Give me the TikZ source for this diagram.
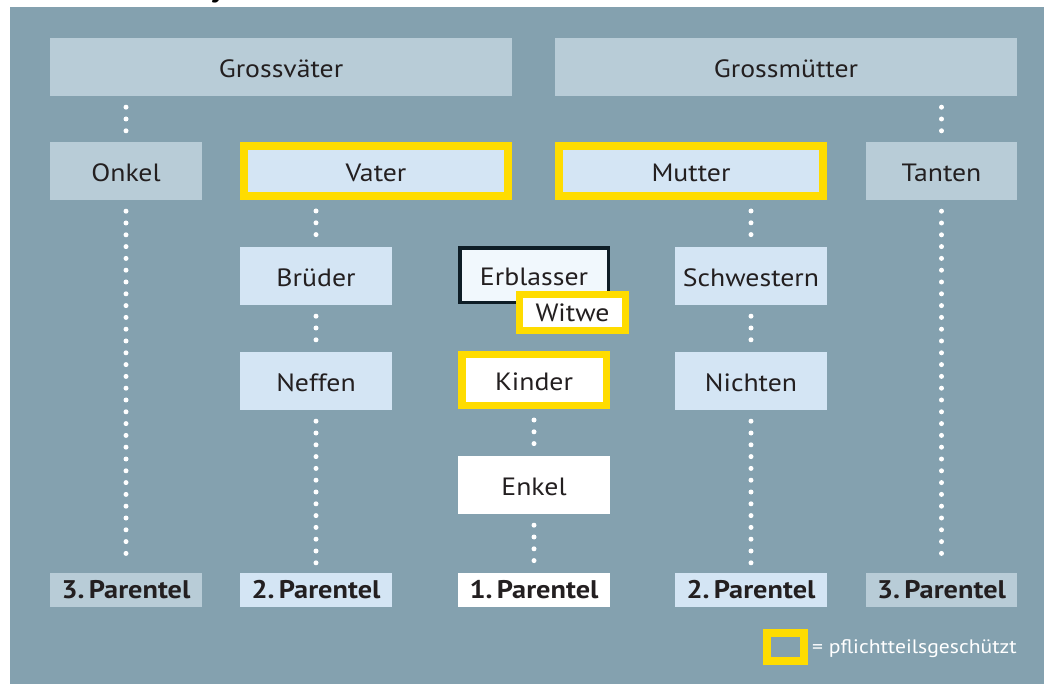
\documentclass[tikz,border=0pt]{standalone}
\usepackage{fontspec}
\setmainfont{PT Sans}[FakeStretch=1.11]
\definecolor{panel}{HTML}{84A1AF}
\definecolor{boxgray}{HTML}{B8CCD7}
\definecolor{boxblue}{HTML}{D4E5F4}
\definecolor{pyellow}{HTML}{FFDC00}
\definecolor{ink}{HTML}{231F20}
\definecolor{erbfill}{HTML}{F1F8FD}
\definecolor{erbline}{HTML}{0E1D26}
\tikzset{
  base/.style={inner sep=0pt, text=ink, font=\fontsize{25}{30}\selectfont, text height=21pt, text depth=0pt},
  graybox/.style={base, fill=boxgray},
  bluebox/.style={base, fill=boxblue},
  whitebox/.style={base, fill=white},
  yframe/.style={draw=pyellow, line width=8pt},
  plabel/.style={inner sep=0pt, text=ink, font=\bfseries\fontsize{25.5}{30}\selectfont, text height=17pt, text depth=0pt, minimum width=152pt, minimum height=34pt},
  dotline/.style={draw=white, line width=5pt, line cap=round, dash pattern=on 0pt off 11.8pt, shorten <=11pt, shorten >=10pt}
}
\begin{document}
\begin{tikzpicture}[x=1pt,y=-1pt]
\useasboundingbox (0,0) rectangle (1044,684);
\fill[white] (0,0) rectangle (1044,684);
\begin{scope}
\clip (0,0) rectangle (1044,7);
\node[anchor=base, inner sep=0pt, font=\bfseries\fontsize{32}{36}\selectfont] (frag) at (218,-3) {y};
\end{scope}
\fill[panel] (10,7) rectangle (1044,684);

% top row
\node[graybox, minimum width=462pt, minimum height=58pt] (gv) at (281,67) {Grossväter};
\node[graybox, minimum width=462pt, minimum height=58pt] (gm) at (786,67) {Grossmütter};

% second row
\node[graybox, minimum width=152pt, minimum height=58pt] (onkel) at (126,171) {Onkel};
\node[bluebox, yframe, minimum width=264pt, minimum height=50pt] (vater) at (376,171) {Vater};
\node[bluebox, yframe, minimum width=264pt, minimum height=50pt] (mutter) at (691,171) {Mutter};
\node[graybox, minimum width=151pt, minimum height=58pt] (tanten) at (941.5,171) {Tanten};

% third row
\node[bluebox, minimum width=152pt, minimum height=58pt] (brueder) at (316,276) {Brüder};
\node[base, fill=erbfill, draw=erbline, line width=3.5pt, minimum width=148.5pt, minimum height=54.5pt] (erb) at (534,275.5) {Erblasser};
\node[whitebox, yframe, line width=7pt, minimum width=106pt, minimum height=36pt, text height=19pt] (witwe) at (572.5,312.5) {Witwe};
\node[bluebox, minimum width=152pt, minimum height=58pt] (schw) at (751,276) {Schwestern};

% fourth row
\node[bluebox, minimum width=152pt, minimum height=58pt] (neffen) at (316,381) {Neffen};
\node[whitebox, yframe, line width=7.5pt, minimum width=144.5pt, minimum height=50.5pt] (kinder) at (534,380) {Kinder};
\node[bluebox, minimum width=152pt, minimum height=58pt] (nichten) at (751,381) {Nichten};

% fifth row
\node[whitebox, minimum width=152pt, minimum height=58pt] (enkel) at (534,485) {Enkel};

% parentel labels
\node[plabel, fill=boxgray] (p3a) at (126,590) {3.\,Parentel};
\node[plabel, fill=boxblue] (p2a) at (316,590) {2.\,Parentel};
\node[plabel, fill=white] (p1) at (534,590) {1.\,Parentel};
\node[plabel, fill=boxblue] (p2b) at (751,590) {2.\,Parentel};
\node[plabel, fill=boxgray, minimum width=151pt] (p3b) at (941.5,590) {3.\,Parentel};

% dotted connectors
\draw[dotline] (gv.south -| onkel.north) -- (onkel.north);
\draw[dotline] (onkel.south) -- (p3a.north);
\draw[dotline] (gm.south -| tanten.north) -- (tanten.north);
\draw[dotline] (tanten.south) -- (p3b.north);
\draw[dotline] (vater.south -| brueder.north) -- (brueder.north);
\draw[dotline] (brueder.south) -- (neffen.north);
\draw[dotline] (neffen.south) -- (p2a.north);
\draw[dotline] (mutter.south -| schw.north) -- (schw.north);
\draw[dotline] (schw.south) -- (nichten.north);
\draw[dotline] (nichten.south) -- (p2b.north);
\draw[dotline] (kinder.south) -- (enkel.north);
\draw[dotline] (enkel.south) -- (p1.north);

% legend
\node[yframe, inner sep=0pt, minimum width=37pt, minimum height=28pt] (legbox) at (785,647) {};
\node[anchor=west, inner sep=0pt, text=white, font=\fontsize{19.5}{22}\selectfont] (legtext) at (812,649) {= pflichtteilsgeschützt};
\end{tikzpicture}
\end{document}
